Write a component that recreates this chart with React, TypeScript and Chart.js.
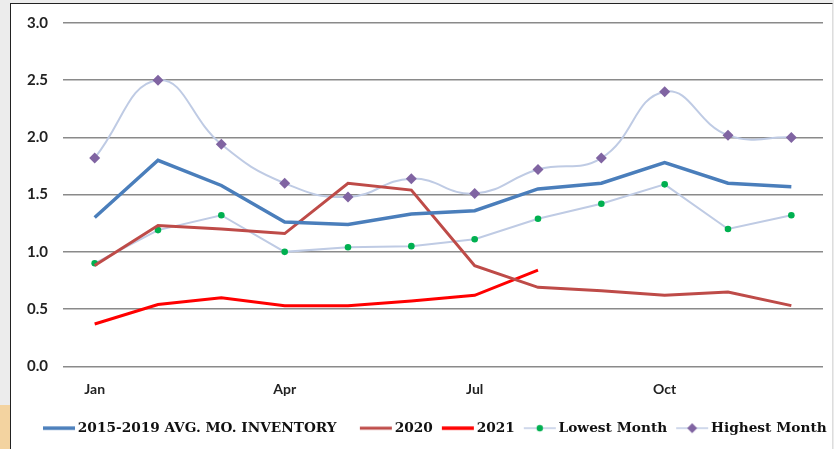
import React, { useEffect, useRef } from "react";
import { Chart, registerables } from "chart.js";

Chart.register(...registerables);

const months = ["Jan", "Feb", "Mar", "Apr", "May", "Jun", "Jul", "Aug", "Sep", "Oct", "Nov", "Dec"];
const avgInventory = [1.30, 1.80, 1.58, 1.26, 1.24, 1.33, 1.36, 1.55, 1.60, 1.78, 1.60, 1.57];
const y2020 = [0.88, 1.23, 1.20, 1.16, 1.60, 1.54, 0.88, 0.69, 0.66, 0.62, 0.65, 0.53];
const y2021 = [0.37, 0.54, 0.60, 0.53, 0.53, 0.57, 0.62, 0.84, null, null, null, null];
const lowestMonth = [0.90, 1.19, 1.32, 1.00, 1.04, 1.05, 1.11, 1.29, 1.42, 1.59, 1.20, 1.32];
const highestMonth = [1.82, 2.50, 1.94, 1.60, 1.48, 1.64, 1.51, 1.72, 1.82, 2.40, 2.02, 2.00];
const legendNames = ["2015-2019 AVG. MO. INVENTORY", "2020", "2021", "Lowest Month", "Highest Month"];

const C_AVG = "#4a7ebb";
const C_2020 = "#be4b48";
const C_2021 = "#ff0000";
const C_THIN = "#bfcbe4";
const C_GREEN = "#00b050";
const C_PURPLE = "#8064a2";

function legendIcon(lineColor: string, lineWidth: number, marker: string | null, markerColor: string) {
  const c = document.createElement("canvas");
  c.width = 34;
  c.height = 14;
  const ctx = c.getContext("2d")!;
  ctx.strokeStyle = lineColor;
  ctx.lineWidth = lineWidth;
  ctx.beginPath();
  ctx.moveTo(1, 7);
  ctx.lineTo(33, 7);
  ctx.stroke();
  ctx.fillStyle = markerColor;
  if (marker === "circle") {
    ctx.beginPath();
    ctx.arc(17, 7, 3.2, 0, Math.PI * 2);
    ctx.fill();
  } else if (marker === "diamond") {
    ctx.beginPath();
    ctx.moveTo(17, 2);
    ctx.lineTo(22, 7);
    ctx.lineTo(17, 12);
    ctx.lineTo(12, 7);
    ctx.closePath();
    ctx.fill();
  }
  return c;
}

const shiftLegend = {
  id: "shiftLegend",
  afterLayout(chart: any) {
    const lg = chart.legend;
    if (lg) {
      lg.left += 23;
      lg.right += 23;
    }
  },
};

export default function App() {
  const ref = useRef<HTMLCanvasElement>(null);
  useEffect(() => {
    if (!ref.current) return;
    const icons = [
      legendIcon(C_AVG, 3.5, null, C_AVG),
      legendIcon(C_2020, 3, null, C_2020),
      legendIcon(C_2021, 3.5, null, C_2021),
      legendIcon(C_THIN, 1.5, "circle", C_GREEN),
      legendIcon(C_THIN, 1.5, "diamond", C_PURPLE),
    ];
    const chart = new Chart(ref.current, {
      type: "line",
      plugins: [shiftLegend],
      data: {
        labels: months,
        datasets: [
          { label: legendNames[0], data: avgInventory, borderColor: C_AVG, borderWidth: 3.5, pointRadius: 0, tension: 0 },
          { label: legendNames[1], data: y2020, borderColor: C_2020, borderWidth: 3, pointRadius: 0, tension: 0 },
          { label: legendNames[2], data: y2021, borderColor: C_2021, borderWidth: 3, pointRadius: 0, tension: 0 },
          {
            label: legendNames[3], data: lowestMonth, borderColor: C_THIN, borderWidth: 2, tension: 0,
            pointRadius: 3.3, pointBackgroundColor: C_GREEN, pointBorderWidth: 0, pointStyle: "circle",
          },
          {
            label: legendNames[4], data: highestMonth, borderColor: C_THIN, borderWidth: 2, tension: 0.45,
            pointRadius: 5.5, pointBackgroundColor: C_PURPLE, pointBorderWidth: 0, pointStyle: "rectRot",
          },
        ],
      },
      options: {
        animation: false,
        responsive: false,
        devicePixelRatio: 1,
        layout: { padding: { top: 19, right: 0, bottom: 4, left: 0 } },
        plugins: {
          tooltip: { enabled: false },
          legend: {
            position: "bottom",
            align: "start",
            labels: {
              usePointStyle: true,
              pointStyleWidth: 24,
              boxHeight: 14,
              padding: 13,
              color: "#111",
              font: { family: "'DejaVu Serif', serif", weight: "bold", size: 13.7 },
              generateLabels: () =>
                legendNames.map((n, i) => ({
                  text: i === 0 ? n + "   " : n,
                  pointStyle: icons[i] as any,
                  fillStyle: "transparent",
                  strokeStyle: "transparent",
                  lineWidth: 0,
                  hidden: false,
                  datasetIndex: i,
                  fontColor: "#111",
                })),
            },
          },
        },
        scales: {
          x: {
            offset: true,
            grid: { display: false, drawTicks: false },
            border: { display: false },
            afterFit: (s: any) => { s.height = 42; },
            ticks: {
              autoSkip: false,
              maxRotation: 0,
              padding: 15,
              color: "#222",
              font: { family: "Lato, sans-serif", weight: "bold", size: 14 },
              callback: (_v: any, i: number) => (i % 3 === 0 ? months[i] : ""),
            },
          },
          y: {
            min: 0,
            max: 3,
            afterFit: (s: any) => { s.width = 52; },
            grid: { color: "#8a8a8a", lineWidth: 1.5, drawTicks: true, tickLength: 10, tickColor: "rgba(0,0,0,0)" },
            border: { display: false },
            ticks: {
              stepSize: 0.5,
              padding: 5,
              color: "#222",
              font: { family: "Lato, sans-serif", weight: "bold", size: 15 },
              callback: (v: any) => Number(v).toFixed(1),
            },
          },
          yRight: {
            type: "linear",
            position: "right",
            min: 0,
            max: 3,
            afterFit: (s: any) => { s.width = 10; },
            grid: { display: false, drawTicks: false },
            border: { display: false },
            ticks: { display: false },
          },
        },
      },
    });
    return () => chart.destroy();
  }, []);

  return (
    <div style={{ position: "fixed", left: 0, top: 0, width: 834, height: 449, background: "#ececec", overflow: "hidden" }}>
      <div style={{ position: "absolute", left: 0, top: 405, width: 10, height: 44, background: "#f3d3a0" }} />
      <div style={{ position: "absolute", left: 10, top: 3, width: 823, height: 446, background: "#ffffff", borderLeft: "1.5px solid #222", borderTop: "1.5px solid #222", borderRight: "1px solid #ddd", boxSizing: "border-box" }} />
      <canvas ref={ref} width={822} height={445} style={{ position: "absolute", left: 11, top: 4, width: 822, height: 445 }} />
    </div>
  );
}
